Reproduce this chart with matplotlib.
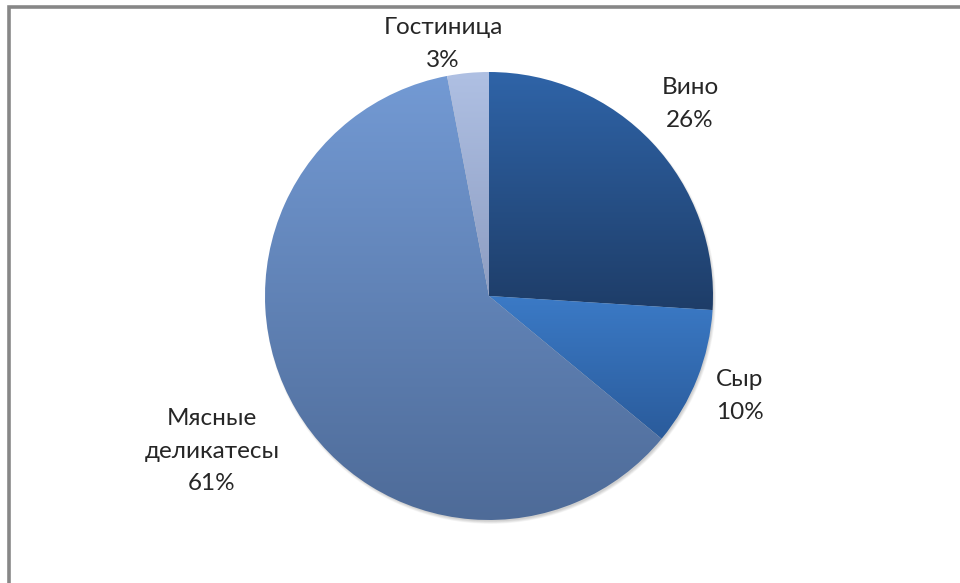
import numpy as np
import matplotlib
matplotlib.use("Agg")
import matplotlib.pyplot as plt
from matplotlib.patches import Rectangle, Circle
from matplotlib.colors import LinearSegmentedColormap

# Revenue shares by category
categories = ["Вино", "Сыр", "Мясные\nделикатесы", "Гостиница"]
shares = [26, 10, 61, 3]
# Gradient colours per slice (top, bottom)
top_colors = ["#2f64a8", "#3b7ac6", "#739ad4", "#afc0e3"]
bottom_colors = ["#1e3d68", "#2a5b9b", "#4e6b98", "#8d9dc2"]

W, H = 960, 583
fig = plt.figure(figsize=(W / 100, H / 100), dpi=100)
ax = fig.add_axes([0, 0, 1, 1])

# chart frame (only top and left edges fall inside the canvas)
fig.patches.append(Rectangle((9 / W, -0.05), 1.1, (H - 7.5) / H + 0.05,
                             transform=fig.transFigure, fill=False,
                             edgecolor="#878787", linewidth=2.6, zorder=0))

cx, cy, r = 489, H - 296, 224

# soft shadow under the pie
for i in range(8):
    ax.add_patch(Circle((cx + 1.5, cy - 2.5), r + 1.5 - i * 0.4,
                        facecolor="#000000", alpha=0.025, edgecolor="none", zorder=1))

wedges, _ = ax.pie(shares, startangle=90, counterclock=False,
                   center=(cx, cy), radius=r, frame=True,
                   wedgeprops=dict(linewidth=0))

for w, c0, c1 in zip(wedges, top_colors, bottom_colors):
    w.set_facecolor("none")
    bb = w.get_path().get_extents(w.get_patch_transform())
    cmap = LinearSegmentedColormap.from_list("g", [c1, c0])
    grad = np.linspace(0, 1, 256).reshape(-1, 1)
    im = ax.imshow(grad, cmap=cmap, origin="lower", aspect="auto",
                   extent=(bb.x0, bb.x1, bb.y0, bb.y1), zorder=2,
                   interpolation="bilinear")
    im.set_clip_path(w)

ax.set_xlim(0, W)
ax.set_ylim(0, H)
ax.set_aspect("equal")
ax.axis("off")

font = dict(family=["Lato", "DejaVu Sans"], fontsize=17.5, color="#262626",
            ha="center", va="center", linespacing=1.68)
label_pos = [(690, 104), (740, 396), (212, 451), (443, 44)]
for name, val, (px, py) in zip(categories, shares, label_pos):
    ax.text(px, H - py, f"{name}\n{val}%", **font)

fig.savefig("out.png", dpi=100)
